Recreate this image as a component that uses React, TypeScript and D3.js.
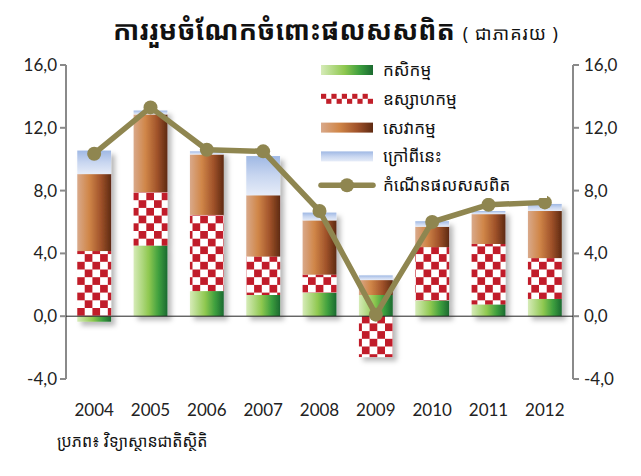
import { useEffect } from 'react';
import * as d3 from 'd3';

const years = ['2004', '2005', '2006', '2007', '2008', '2009', '2010', '2011', '2012'];
const agriculture = [-0.35, 4.5, 1.6, 1.35, 1.5, 1.35, 1.0, 0.75, 1.1];
const industry = [4.15, 3.4, 4.85, 2.45, 1.15, -2.6, 3.4, 3.85, 2.6];
const services = [4.9, 4.95, 3.85, 3.9, 3.45, 0.95, 1.3, 1.9, 3.0];
const other = [1.5, 0.25, 0.2, 2.5, 0.5, 0.3, 0.35, 0.2, 0.45];
const growth = [10.35, 13.3, 10.6, 10.5, 6.7, 0.1, 6.0, 7.1, 7.25];
const yTicks = [-4, 0, 4, 8, 12, 16];

const seriesKeys = ['agriculture', 'industry', 'services', 'other'];
const seriesLabels = ['កសិកម្ម', 'ឧស្សាហកម្ម', 'សេវាកម្ម', 'ក្រៅពីនេះ'];
const growthLabel = 'កំណើនផលសសពិត';
const fills = ['url(#gGreen)', 'url(#checker)', 'url(#gBrown)', 'url(#gBlue)'];

const W = 641;
const H = 476;
const left = 66;
const right = 573;
const top = 65;
const bottom = 379;

const khmer = '"Noto Sans Khmer", "Khmer OS", "Noto Sans", sans-serif';
const latin = 'Lato, "Open Sans", "Liberation Sans", sans-serif';
const fmt = (v: number) => v.toFixed(1).replace('.', ',');
const olive = '#8f8650';

export default function App() {
  useEffect(() => {
    document.body.style.margin = '0';
  }, []);

  const x = d3.scaleBand().domain(years).range([left, right]).paddingInner(0.4).paddingOuter(0.2);
  const y = d3.scaleLinear().domain([-4, 16]).range([bottom, top]);

  const table = years.map((yr, i) => ({
    year: yr,
    agriculture: agriculture[i],
    industry: industry[i],
    services: services[i],
    other: other[i],
  }));
  const stacked = d3.stack<any>().keys(seriesKeys).offset(d3.stackOffsetDiverging)(table);

  const line = d3.line<number>()
    .x((_, i) => (x(years[i]) as number) + x.bandwidth() / 2)
    .y((d) => y(d));

  const bw = x.bandwidth();
  const legendX = 321;
  const legendY = 70;
  const legendStep = 28.8;

  return (
    <svg width={W} height={H} style={{ display: 'block', background: '#fff' }}>
      <defs>
        <linearGradient id="gGreen" x1="0" x2="1" y1="0" y2="0">
          <stop offset="0" stopColor="#d6ebb8" />
          <stop offset="0.45" stopColor="#8fc850" />
          <stop offset="0.75" stopColor="#3c9e3e" />
          <stop offset="1" stopColor="#1b6a30" />
        </linearGradient>
        <linearGradient id="gBrown" x1="0" x2="1" y1="0" y2="0">
          <stop offset="0" stopColor="#d9a98a" />
          <stop offset="0.35" stopColor="#d08648" />
          <stop offset="0.7" stopColor="#a0522a" />
          <stop offset="1" stopColor="#5e2a12" />
        </linearGradient>
        <linearGradient id="gBlue" x1="0" x2="0" y1="0" y2="1">
          <stop offset="0" stopColor="#9fb8e4" />
          <stop offset="0.5" stopColor="#c8d6f0" />
          <stop offset="1" stopColor="#e6ecf8" />
        </linearGradient>
        <pattern id="checker" width="15.4" height="15.4" patternUnits="userSpaceOnUse">
          <rect width="15.4" height="15.4" fill="#ffffff" />
          <rect width="7.7" height="7.7" fill="#c11f2a" />
          <rect x="7.7" y="7.7" width="7.7" height="7.7" fill="#c11f2a" />
        </pattern>
        <filter id="shadow" x="-30%" y="-30%" width="160%" height="160%">
          <feDropShadow dx="4" dy="4" stdDeviation="2.5" floodColor="#000" floodOpacity="0.28" />
        </filter>
      </defs>

      <text x={336} y={40} textAnchor="middle" fill="#111">
        <tspan fontFamily={khmer} fontSize={27} fontWeight="bold">ការរួមចំណែកចំពោះផលសសពិត</tspan>
        <tspan fontFamily={khmer} fontSize={18} dx={8} letterSpacing={1}>( ជាភាគរយ )</tspan>
      </text>

      {/* axes */}
      <line x1={left} x2={left} y1={top} y2={bottom} stroke="#8a8a8a" strokeWidth={2} />
      <line x1={right} x2={right} y1={top} y2={bottom} stroke="#8a8a8a" strokeWidth={2} />
      {yTicks.map((t) => (
        <g key={t}>
          <line x1={left - 6} x2={left} y1={y(t)} y2={y(t)} stroke="#8a8a8a" strokeWidth={2} />
          <line x1={right} x2={right + 6} y1={y(t)} y2={y(t)} stroke="#8a8a8a" strokeWidth={2} />
          <text x={left - 9} y={y(t)} dy="0.35em" textAnchor="end" fontFamily={latin} fontSize={17} fill="#222">{fmt(t)}</text>
          <text x={right + 11} y={y(t)} dy="0.35em" textAnchor="start" fontFamily={latin} fontSize={17} fill="#222">{fmt(t)}</text>
        </g>
      ))}

      {/* bars */}
      <g filter="url(#shadow)">
        {stacked.map((s, si) => (
          <g key={s.key}>
            {s.map((d, i) => (
              <rect
                key={i}
                x={x(years[i]) as number}
                width={bw}
                y={y(Math.max(d[0], d[1]))}
                height={Math.abs(y(d[0]) - y(d[1]))}
                fill={fills[si]}
              />
            ))}
          </g>
        ))}
      </g>

      <line x1={left} x2={right} y1={y(0)} y2={y(0)} stroke="#222" strokeWidth={1} />

      {/* growth line */}
      <path d={line(growth) || ''} fill="none" stroke={olive} strokeWidth={5.5} strokeLinejoin="round" />
      {growth.map((g, i) => (
        <circle key={i} cx={(x(years[i]) as number) + bw / 2} cy={y(g)} r={7} fill={olive} />
      ))}

      {years.map((yr) => (
        <text key={yr} x={(x(yr) as number) + bw / 2} y={416} textAnchor="middle" fontFamily={latin} fontSize={17} fill="#222">{yr}</text>
      ))}

      {/* legend */}
      <rect x={legendX - 4} y={legendY - 14} width={230} height={142} fill="#fff" />
      {seriesLabels.map((lab, i) => (
        <g key={lab} transform={`translate(${legendX},${legendY + i * legendStep})`}>
          {i === 1 ? (
            <g>
              <rect x={0} y={-5} width={52} height={10} fill="#fff" />
              {d3.range(0, 52, 10.4).map((xx, k) => (
                <g key={k}>
                  <rect x={xx} y={-5} width={5.2} height={5} fill="#c11f2a" />
                  <rect x={xx + 5.2} y={0} width={5.2} height={5} fill="#c11f2a" />
                </g>
              ))}
            </g>
          ) : (
            <rect x={0} y={-5} width={52} height={10} fill={fills[i]} />
          )}
          <text x={62} y={0} dy="0.35em" fontFamily={khmer} fontSize={17} fill="#111">{lab}</text>
        </g>
      ))}
      <g transform={`translate(${legendX},${legendY + 4 * legendStep})`}>
        <line x1={0} x2={52} y1={0} y2={0} stroke={olive} strokeWidth={5.5} strokeLinecap="round" />
        <circle cx={26} cy={0} r={7} fill={olive} />
        <text x={62} y={0} dy="0.35em" fontFamily={khmer} fontSize={17} fill="#111">{growthLabel}</text>
      </g>

      <text x={57} y={447} fontFamily={khmer} fontSize={16} fill="#111">ប្រភព៖ វិទ្យាស្ថានជាតិស្ថិតិ</text>
    </svg>
  );
}
